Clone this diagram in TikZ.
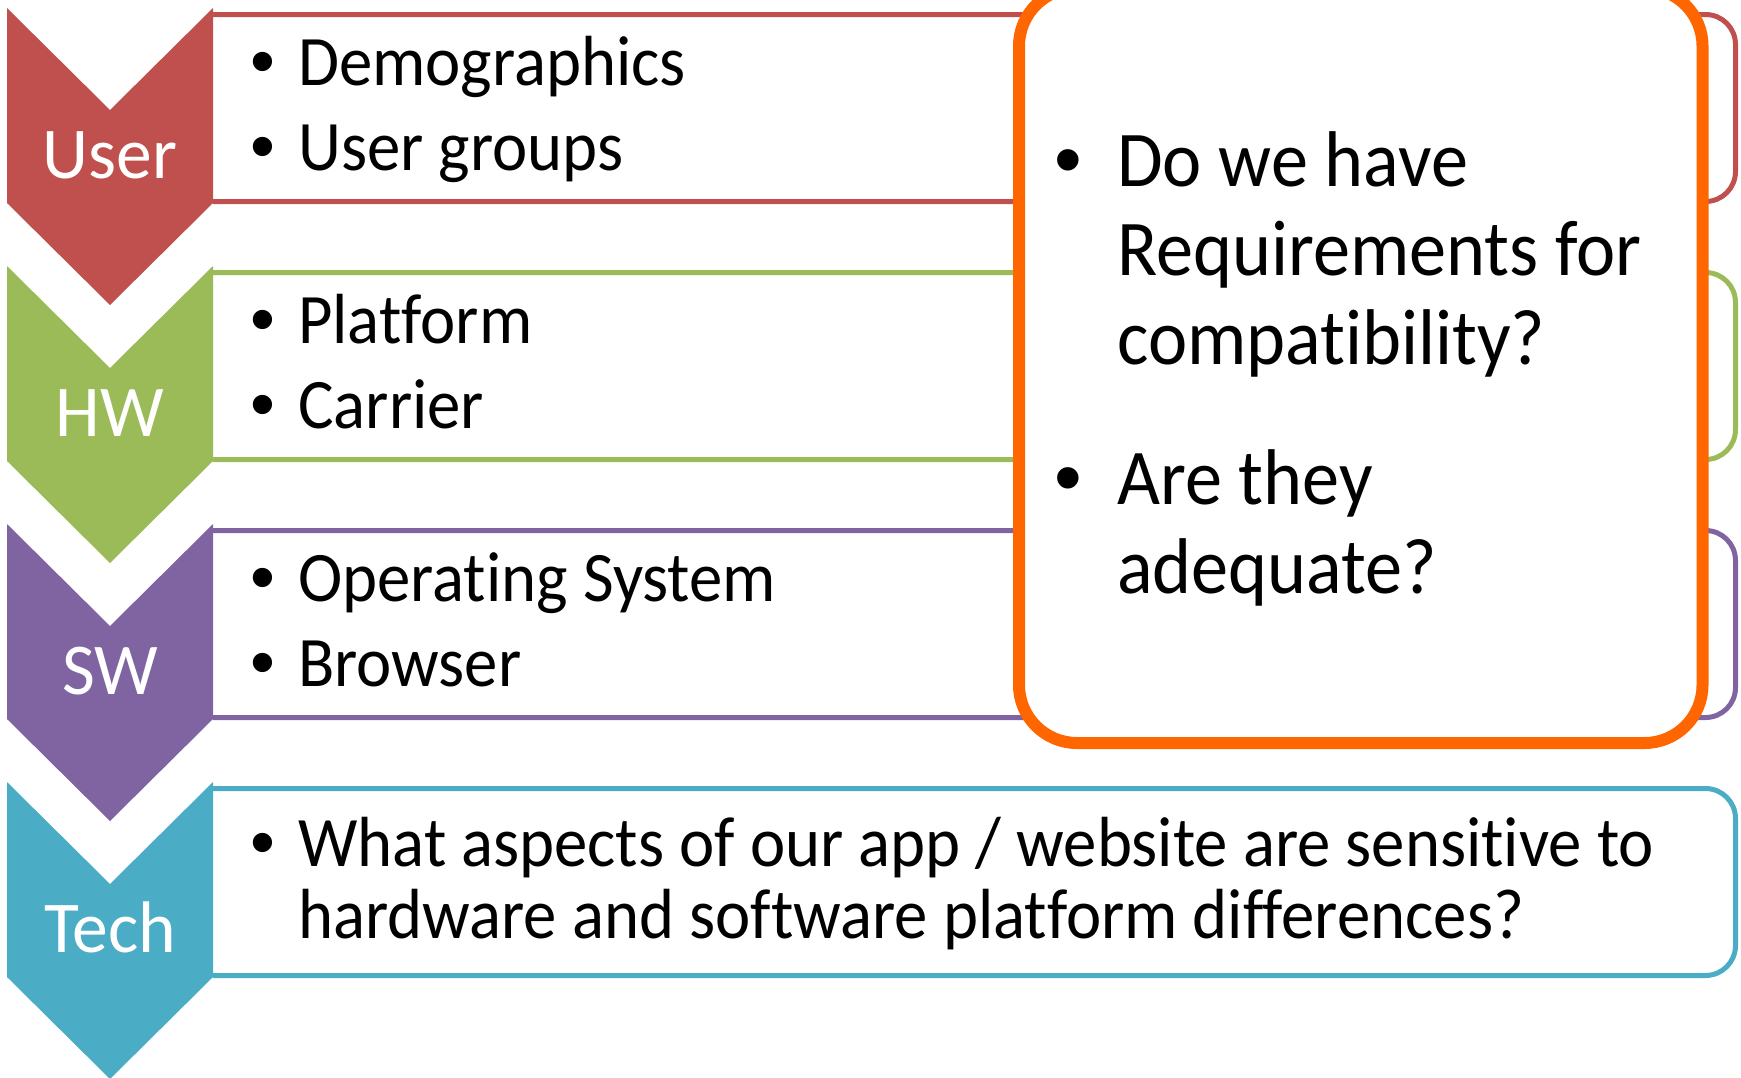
\documentclass[tikz,border=0pt]{standalone}
\usepackage{fontspec}
\setmainfont{Carlito}[Ligatures=NoCommon, FakeStretch=0.94]
\newfontfamily\tagfont{Carlito}[Ligatures=NoCommon, FakeStretch=0.98]
\newfontfamily\bulletfont{Liberation Sans}

\definecolor{userred}{HTML}{C0504D}
\definecolor{hwgreen}{HTML}{9BBB59}
\definecolor{swpurple}{HTML}{8064A2}
\definecolor{techblue}{HTML}{4BACC6}
\definecolor{askorange}{HTML}{FF6600}

\newcommand{\itembullet}{\llap{\makebox[0pt]{\bulletfont\textbullet}\hspace{35pt}}}
\newcommand{\askbullet}{\llap{\makebox[0pt]{\bulletfont\textbullet}\hspace{49pt}}}

\begin{document}
\begin{tikzpicture}[
    x=1pt, y=-1pt,
    lane/.style={line width=5pt, rounded corners=30pt},
    tag/.style={text=white, anchor=base, inner sep=0pt, font=\tagfont\fontsize{73}{80}\selectfont},
    item/.style={anchor=base west, inner sep=0pt, font=\fontsize{71}{80}\selectfont},
    ask/.style={anchor=base west, inner sep=0pt, font=\fontsize{79}{89}\selectfont},
  ]
  \useasboundingbox (0,0) rectangle (1741,1077);
  \clip (0,0) rectangle (1741,1077);

  % Lanes
  \draw[lane, draw=userred]  (213,14.5)  -- (1735.5,14.5)  -- (1735.5,201.5) -- (213,201.5);
  \draw[lane, draw=hwgreen]  (213,272.5) -- (1735.5,272.5) -- (1735.5,459.5) -- (213,459.5);
  \draw[lane, draw=swpurple] (213,530.5) -- (1735.5,530.5) -- (1735.5,717.5) -- (213,717.5);
  \draw[lane, draw=techblue] (213,788.5) -- (1735.5,788.5) -- (1735.5,975.5) -- (213,975.5);

  % Chevrons
  \fill[userred]  (7,8)   -- (110,110) -- (213,8)   -- (213,203) -- (110,305)  -- (7,203) -- cycle;
  \fill[hwgreen]  (7,266) -- (110,368) -- (213,266) -- (213,461) -- (110,563)  -- (7,461) -- cycle;
  \fill[swpurple] (7,524) -- (110,626) -- (213,524) -- (213,719) -- (110,821)  -- (7,719) -- cycle;
  \fill[techblue] (7,782) -- (110,884) -- (213,782) -- (213,977) -- (110,1079) -- (7,977) -- cycle;

  \node[tag] (user) at (110,178) {User};
  \node[tag] (hw)   at (110,436) {HW};
  \node[tag] (sw)   at (110,694) {SW};
  \node[tag] (tech) at (110,952) {Tech};

  % Items
  \node[item] (demo)     at (298,85)  {\itembullet Demographics};
  \node[item] (groups)   at (298,170) {\itembullet User groups};
  \node[item] (platform) at (298,343) {\itembullet Platform};
  \node[item] (carrier)  at (298,428) {\itembullet Carrier};
  \node[item] (os)       at (298,601) {\itembullet Operating System};
  \node[item] (browser)  at (298,686) {\itembullet Browser};
  \node[item] (aspects)  at (298,866) {\itembullet What aspects of our app / website are sensitive to};
  \node[item] (diffs)    at (298,938) {hardware and software platform differences?};

  % Question box
  \draw[line width=12pt, draw=askorange, fill=white, rounded corners=58pt]
    (1019,-12) rectangle (1702.5,743);
  \node[ask] (havea) at (1117,186) {\askbullet Do we have};
  \node[ask] (haveb) at (1117,275) {Requirements for};
  \node[ask] (havec) at (1117,364) {compatibility?};
  \node[ask] (enoa)  at (1117,504) {\askbullet Are they};
  \node[ask] (enob)  at (1117,593) {adequate?};

\end{tikzpicture}
\end{document}
